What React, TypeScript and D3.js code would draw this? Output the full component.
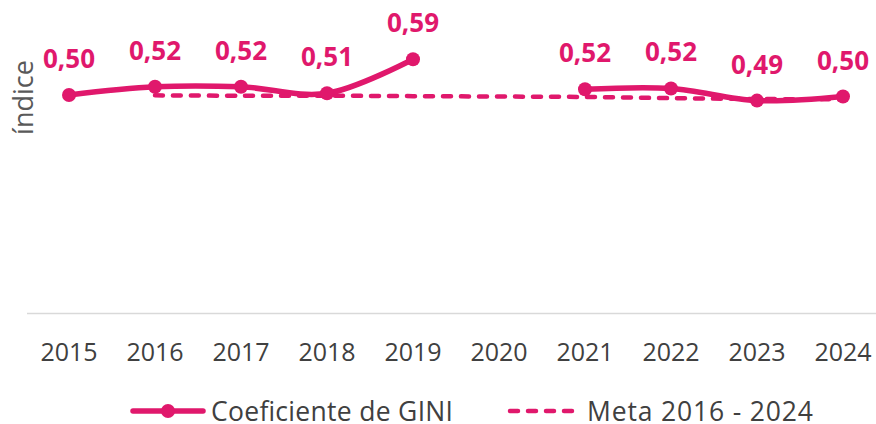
import { useMemo } from "react";
import * as d3 from "d3";

// Coeficiente de GINI vs. meta, 2015-2024 (2020 sin dato)
const years = ["2015", "2016", "2017", "2018", "2019", "2020", "2021", "2022", "2023", "2024"];
const gini: (number | null)[] = [0.503, 0.523, 0.523, 0.507, 0.591, null, 0.517, 0.519, 0.489, 0.499];
const meta: (number | null)[] = [null, 0.502, 0.501, 0.501, 0.500, 0.499, 0.498, 0.495, 0.493, 0.492];

const W = 876;
const H = 424;
const PINK = "#e0186c";
const INK = "#404040";
const FONT = "'Open Sans', sans-serif";

const plot = { left: 26, right: 886, top: 15, bottom: 313.5 };

export default function App() {
  const x = useMemo(
    () => d3.scalePoint<string>().domain(years).range([plot.left, plot.right]).padding(0.5),
    []
  );
  // axis 0..0.7 spans the drawn area above the baseline
  const y = useMemo(() => d3.scaleLinear().domain([0, 0.7]).range([299, plot.top]), []);

  const fmt = (v: number) => d3.format(".2f")(v).replace(".", ",");

  const line = d3
    .line<number | null>()
    .defined((d) => d != null)
    .x((_, i) => x(years[i])!)
    .y((d) => y(d as number))
    .curve(d3.curveCatmullRom.alpha(0.5));

  return (
    <svg
      width={W}
      height={H}
      viewBox={`0 0 ${W} ${H}`}
      style={{ position: "absolute", left: 0, top: 0, background: "#fff" }}
    >
      <line
        x1={27}
        x2={W}
        y1={plot.bottom}
        y2={plot.bottom}
        stroke="#d9d9d9"
        strokeWidth={1.5}
      />

      <text
        transform={`translate(33,97.5) rotate(-90)`}
        textAnchor="middle"
        fontFamily={FONT}
        fontSize={27}
        fill="#595959"
      >
        índice
      </text>

      {years.map((yr) => (
        <text
          key={yr}
          x={x(yr)}
          y={361}
          textAnchor="middle"
          fontFamily={FONT}
          fontSize={25}
          fill={INK}
        >
          {yr}
        </text>
      ))}

      <path
        d={line(meta) ?? ""}
        fill="none"
        stroke={PINK}
        strokeWidth={4.5}
        strokeDasharray="8 10"
        strokeLinecap="round"
      />

      <path
        d={line(gini) ?? ""}
        fill="none"
        stroke={PINK}
        strokeWidth={5.5}
        strokeLinejoin="round"
        strokeLinecap="round"
      />

      {gini.map((v, i) =>
        v == null ? null : (
          <g key={years[i]}>
            <circle cx={x(years[i])} cy={y(v)} r={7} fill={PINK} />
            <text
              x={x(years[i])}
              y={y(v) - 27}
              textAnchor="middle"
              fontFamily={FONT}
              fontWeight={700}
              fontSize={26}
              fill={PINK}
            >
              {fmt(v)}
            </text>
          </g>
        )
      )}

      {/* legend */}
      <g>
        <line x1={133} x2={203} y1={411} y2={411} stroke={PINK} strokeWidth={5.5} strokeLinecap="round" />
        <circle cx={168} cy={411} r={7} fill={PINK} />
        <text
          x={211}
          y={421}
          fontFamily={FONT}
          fontSize={26.5}
          fill={INK}
          textLength={242}
          lengthAdjust="spacing"
        >
          Coeficiente de GINI
        </text>
        <line
          x1={510}
          x2={577}
          y1={411}
          y2={411}
          stroke={PINK}
          strokeWidth={4.5}
          strokeDasharray="8 10"
          strokeLinecap="round"
        />
        <text
          x={587}
          y={421}
          fontFamily={FONT}
          fontSize={26.5}
          fill={INK}
          textLength={226}
          lengthAdjust="spacing"
        >
          Meta 2016 - 2024
        </text>
      </g>
    </svg>
  );
}
